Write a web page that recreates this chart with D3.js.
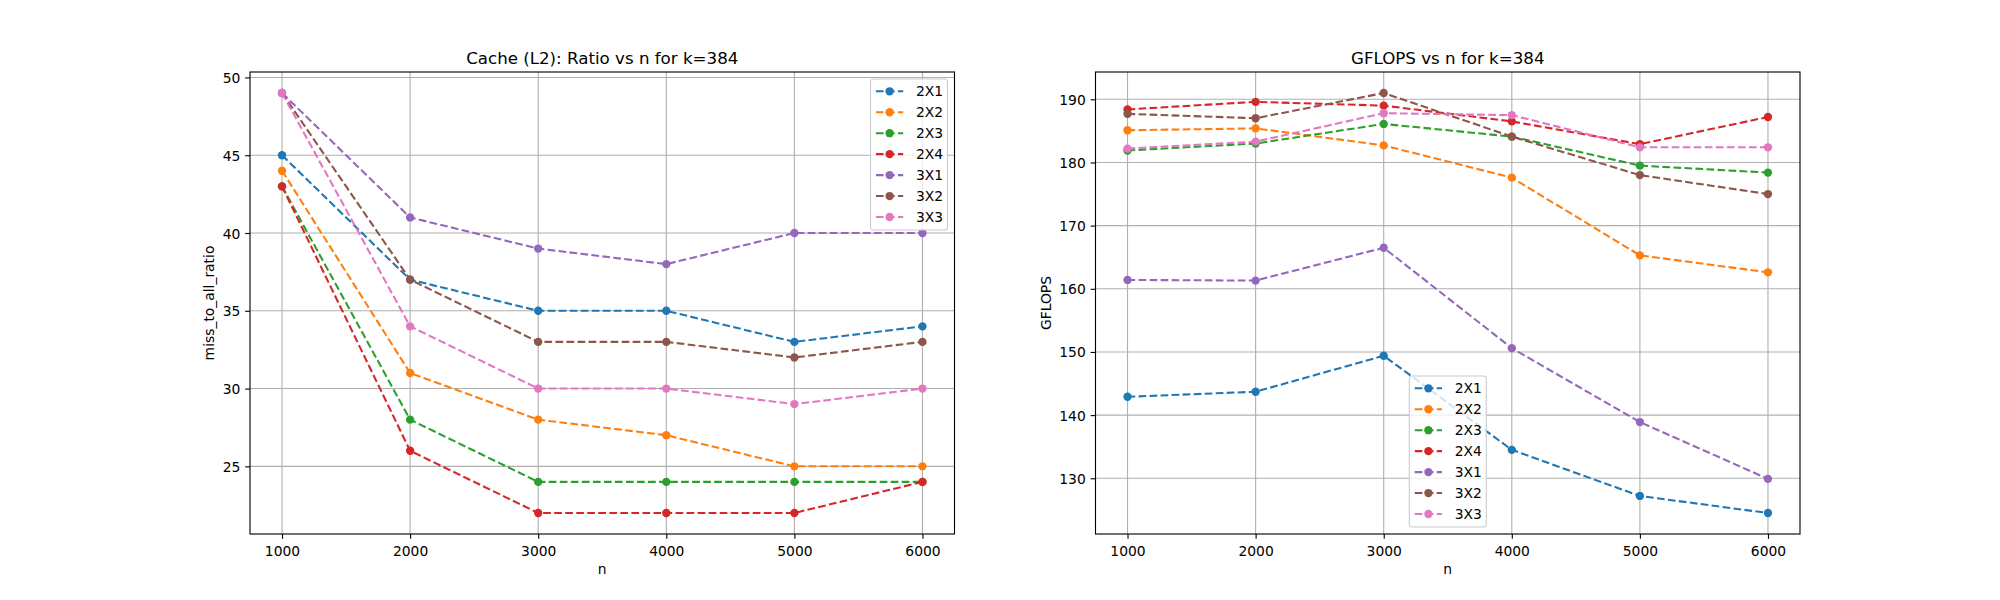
<!DOCTYPE html>
<html><head><meta charset="utf-8">
<script src="https://cdn.jsdelivr.net/npm/d3@7"></script>
<style>body{margin:0;background:#fff}svg{display:block}text{font-family:"DejaVu Sans",sans-serif;fill:#000}</style>
</head><body>
<svg id="c" width="2000" height="600"></svg>
<script>
const nValues = [1000, 2000, 3000, 4000, 5000, 6000];
const seriesNames = ["2X1", "2X2", "2X3", "2X4", "3X1", "3X2", "3X3"];
const colors = ["#1f77b4", "#ff7f0e", "#2ca02c", "#d62728", "#9467bd", "#8c564b", "#e377c2"];

// Cache (L2) miss_to_all_ratio
const ratio2X1 = [45, 37, 35, 35, 33, 34];
const ratio2X2 = [44, 31, 28, 27, 25, 25];
const ratio2X3 = [43, 28, 24, 24, 24, 24];
const ratio2X4 = [43, 26, 22, 22, 22, 24];
const ratio3X1 = [49, 41, 39, 38, 40, 40];
const ratio3X2 = [49, 37, 33, 33, 32, 33];
const ratio3X3 = [49, 34, 30, 30, 29, 30];

// GFLOPS
const gflops2X1 = [142.9, 143.7, 149.4, 134.5, 127.2, 124.5];
const gflops2X2 = [185.1, 185.4, 182.7, 177.6, 165.3, 162.6];
const gflops2X3 = [181.9, 183.0, 186.1, 184.1, 179.5, 178.4];
const gflops2X4 = [188.4, 189.6, 189.0, 186.5, 182.9, 187.2];
const gflops3X1 = [161.4, 161.3, 166.5, 150.6, 138.9, 129.9];
const gflops3X2 = [187.7, 187.0, 191.0, 184.1, 178.0, 175.0];
const gflops3X3 = [182.2, 183.3, 187.8, 187.5, 182.4, 182.4];

const xTicks = [1000, 2000, 3000, 4000, 5000, 6000];
const ratioTicks = [25, 30, 35, 40, 45, 50];
const gflopsTicks = [130, 140, 150, 160, 170, 180, 190];

const ratioSeries = [ratio2X1, ratio2X2, ratio2X3, ratio2X4, ratio3X1, ratio3X2, ratio3X3];
const gflopsSeries = [gflops2X1, gflops2X2, gflops2X3, gflops2X4, gflops3X1, gflops3X2, gflops3X3];

const svg = d3.select("#c");
const FS = 13.89;
const axTop = 72, axBottom = 534;

function panel(opts) {
  const {x0, x1, series, yTicks, title, ylabel, legendPos} = opts;
  const all = series.flat();
  const ymin = d3.min(all), ymax = d3.max(all);
  const ypad = (ymax - ymin) * 0.05;
  const xs = d3.scaleLinear().domain([750, 6250]).range([x0, x1]);
  const ys = d3.scaleLinear().domain([ymin - ypad, ymax + ypad]).range([axBottom, axTop]);
  const g = svg.append("g");
  // grid
  g.selectAll(".gx").data(xTicks).enter().append("line")
    .attr("x1", d => xs(d)).attr("x2", d => xs(d)).attr("y1", axTop).attr("y2", axBottom)
    .attr("stroke", "#b0b0b0").attr("stroke-width", 1.11);
  g.selectAll(".gy").data(yTicks).enter().append("line")
    .attr("y1", d => ys(d)).attr("y2", d => ys(d)).attr("x1", x0).attr("x2", x1)
    .attr("stroke", "#b0b0b0").attr("stroke-width", 1.11);
  // axes
  const xAxis = d3.axisBottom(xs).tickValues(xTicks).tickSize(4.86).tickPadding(4.86).tickFormat(d3.format("d"));
  const yAxis = d3.axisLeft(ys).tickValues(yTicks).tickSize(4.86).tickPadding(4.86).tickFormat(d3.format("d"));
  const gx = g.append("g").attr("transform", `translate(0,${axBottom})`).call(xAxis);
  const gy = g.append("g").attr("transform", `translate(${x0},0)`).call(yAxis);
  [gx, gy].forEach(a => {
    a.select(".domain").remove();
    a.selectAll("line").attr("stroke", "#000").attr("stroke-width", 1.11);
    a.selectAll("text").attr("font-size", FS).attr("font-family", "DejaVu Sans").attr("fill", "#000");
  });
  gx.selectAll("text").attr("dy", null).attr("y", 555.5 - axBottom);
  gy.selectAll("text").attr("dy", "0.36em");
  // lines
  const line = d3.line().x((d, i) => xs(nValues[i])).y(d => ys(d));
  series.forEach((s, k) => {
    g.append("path").datum(s).attr("d", line).attr("fill", "none")
      .attr("stroke", colors[k]).attr("stroke-width", 2.08).attr("stroke-dasharray", "7.7,3.33");
    g.selectAll(".m" + k).data(s).enter().append("circle")
      .attr("cx", (d, i) => xs(nValues[i])).attr("cy", d => ys(d)).attr("r", 4.17)
      .attr("fill", colors[k]);
  });
  // frame
  g.append("rect").attr("x", x0).attr("y", axTop).attr("width", x1 - x0).attr("height", axBottom - axTop)
    .attr("fill", "none").attr("stroke", "#000").attr("stroke-width", 1.11);
  // title & labels
  g.append("text").attr("x", (x0 + x1) / 2).attr("y", 63.7).attr("text-anchor", "middle")
    .attr("font-size", 16.67).text(title);
  g.append("text").attr("x", (x0 + x1) / 2).attr("y", 573.7).attr("text-anchor", "middle")
    .attr("font-size", FS).text("n");
  const tw = d3.max(gy.selectAll("text").nodes(), n => n.getComputedTextLength());
  const lx = x0 - 9.72 - tw - 5.56 - 3.2;
  g.append("text").attr("transform", `translate(${lx},${(axTop + axBottom) / 2}) rotate(-90)`)
    .attr("text-anchor", "middle").attr("font-size", FS).text(ylabel);
  // legend
  const [lx0, ly0] = legendPos;
  const lg = g.append("g").attr("transform", `translate(${lx0},${ly0})`);
  lg.append("rect").attr("x", 0).attr("y", 0).attr("width", 77).attr("height", 151)
    .attr("rx", 2.8).attr("fill", "#fff").attr("fill-opacity", 0.8)
    .attr("stroke", "#cccccc").attr("stroke-width", 1.11);
  seriesNames.forEach((name, k) => {
    const cy = 12.3 + k * 20.95;
    lg.append("line").attr("x1", 5.4).attr("x2", 32.7).attr("y1", cy).attr("y2", cy)
      .attr("stroke", colors[k]).attr("stroke-width", 2.08).attr("stroke-dasharray", "7.7,3.33");
    lg.append("circle").attr("cx", 19.1).attr("cy", cy).attr("r", 4.17).attr("fill", colors[k]);
    lg.append("text").attr("x", 45.4).attr("y", cy).attr("dy", "0.36em").attr("font-size", FS).text(name);
  });
}

panel({x0: 250, x1: 954.5, series: ratioSeries, yTicks: ratioTicks,
  title: "Cache (L2): Ratio vs n for k=384", ylabel: "miss_to_all_ratio", legendPos: [870.5, 79]});
panel({x0: 1095.5, x1: 1800, series: gflopsSeries, yTicks: gflopsTicks,
  title: "GFLOPS vs n for k=384", ylabel: "GFLOPS", legendPos: [1409.3, 376]});
</script>
</body></html>
